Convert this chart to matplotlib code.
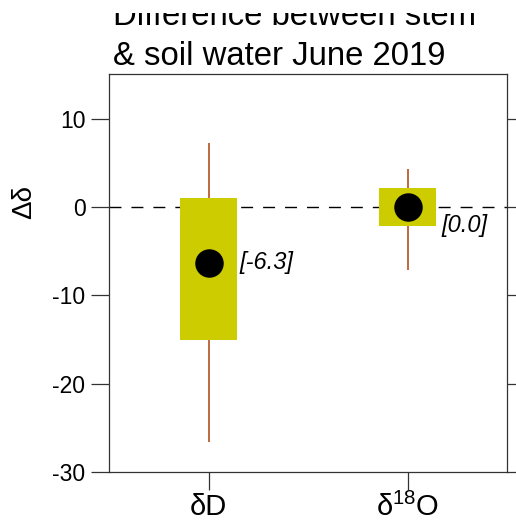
import matplotlib.pyplot as plt
from matplotlib.transforms import Bbox
import numpy as np

plt.rcParams["font.family"] = ["Liberation Sans", "DejaVu Sans"]
plt.rcParams["mathtext.fontset"] = "custom"
plt.rcParams["mathtext.rm"] = "Liberation Sans"

# data
isotopes = ["δD", r"δ$^{\mathrm{18}}$O"]
box_hi = [1.05, 2.2]
box_lo = [-15.1, -2.15]
whisk_hi = [7.2, 4.3]
whisk_lo = [-26.6, -7.1]
means = [-6.3, 0.0]
mean_labels = ["[-6.3]", "[0.0]"]
label_offsets = [(22, 0), (24.5, -13)]

box_col = "#CCCC00"
whisk_col = "#B5501F"

fig = plt.figure(figsize=(5.16, 5.22), dpi=100)
ax = fig.add_axes([109 / 516, 1 - 472 / 522, 398 / 516, 398 / 522])

x = np.arange(1, len(isotopes) + 1)

ax.axhline(0, color="black", lw=1, dashes=(8.6, 7.2), zorder=1)

# whiskers
ax.vlines(x, whisk_lo, whisk_hi, color=whisk_col, lw=1.2, zorder=2)

# boxes
width = 0.29
for xi, lo, hi in zip(x, box_lo, box_hi):
    ax.bar(xi, hi - lo, bottom=lo, width=width, color=box_col, zorder=3)

# mean points
ax.plot(x, means, "o", color="black", ms=19.5, zorder=4)

for xi, m, lab, off in zip(x, means, mean_labels, label_offsets):
    ax.annotate(lab, (xi, m), xytext=off, textcoords="offset points",
                ha="left", va="center", fontsize=17, style="italic")

ax.set_xlim(0.5, 2.5)
ax.set_ylim(-30, 15.05)
ax.set_yticks([-30, -20, -10, 0, 10])
ax.set_yticklabels(["-30", "-20", "-10", "0", "10"])
ax.set_xticks(x)
ax.set_xticklabels(isotopes, fontsize=21)

for sp in ax.spines.values():
    sp.set_color("#333333")
    sp.set_linewidth(0.9)

ax.tick_params(axis="y", which="both", direction="out", length=13, width=0.9,
               color="#333333", labelsize=16.5, right=True, pad=4)
ax.tick_params(axis="x", direction="out", length=13, width=0.9,
               color="#333333", pad=2)

ax.set_ylabel("Δδ", fontsize=20)
ax.yaxis.set_label_coords(-0.18, 0.678)

# title, first line is cut off at the top like in the original
t1 = fig.text(113 / 516, 1 - 25 / 522, "Difference between stem", fontsize=23.7,
              ha="left", va="baseline")
t1.set_clip_box(Bbox.from_extents(0, 0, 516, 522 - 13))
t1.set_clip_on(True)
fig.text(113 / 516, 1 - 65 / 522, "& soil water June 2019", fontsize=23.7,
         ha="left", va="baseline")

fig.savefig("out.png", dpi=100)
